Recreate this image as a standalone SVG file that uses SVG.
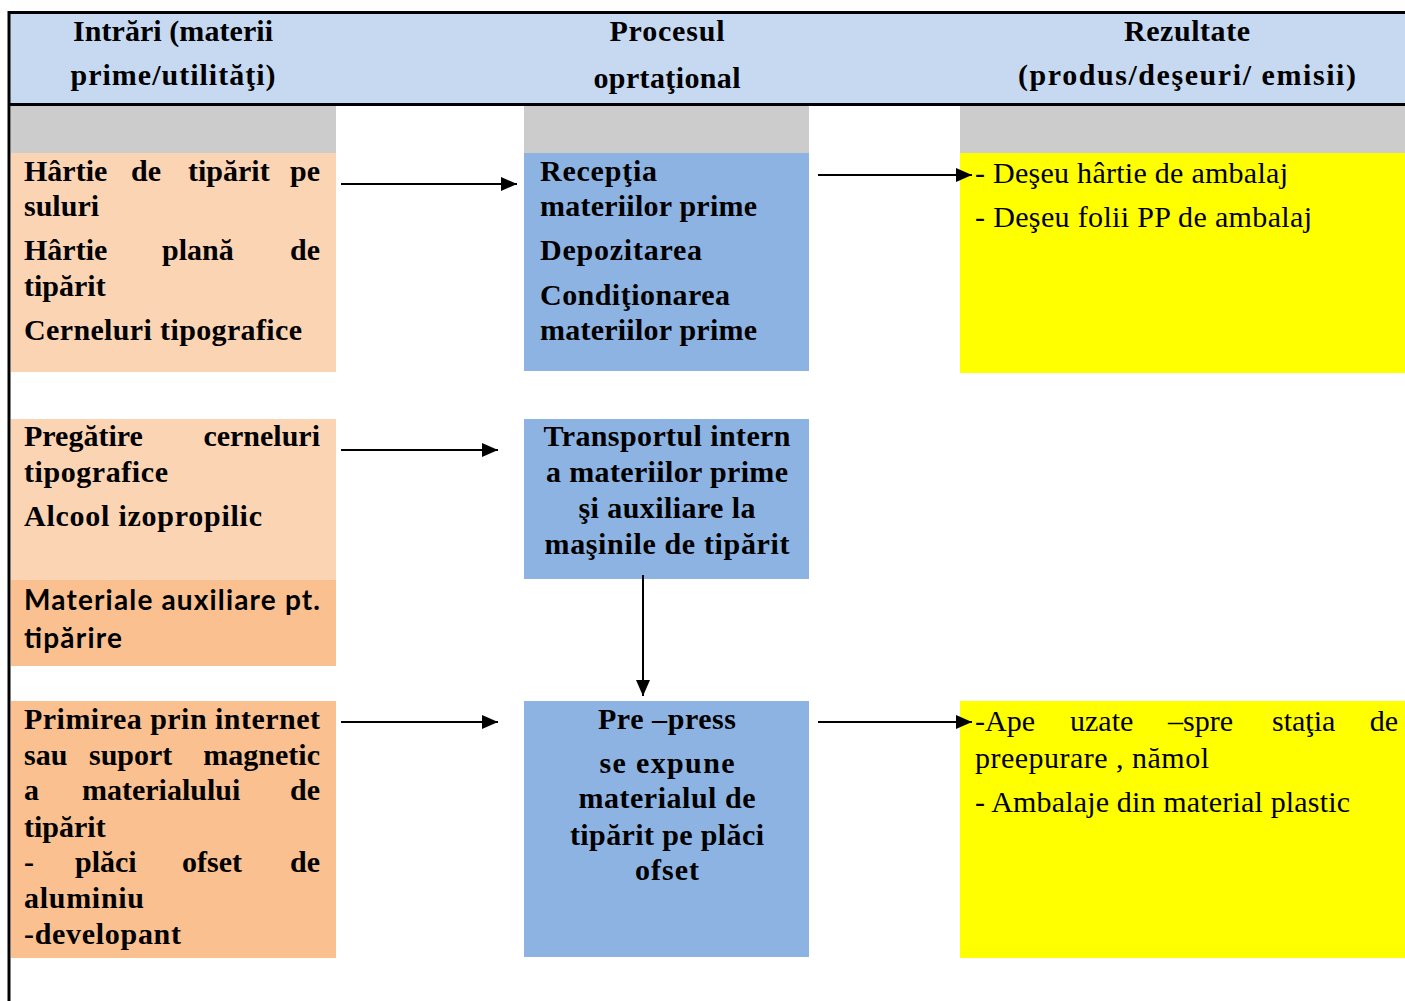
<svg xmlns="http://www.w3.org/2000/svg" width="1405" height="1001" viewBox="0 0 1405 1001">
<defs>
<marker id="ah" markerWidth="16" markerHeight="14" refX="16" refY="7" orient="auto" markerUnits="userSpaceOnUse">
<path d="M0,0 L16,7 L0,14 Z" fill="#000"/>
</marker>
<style>
.s{font-family:"Liberation Serif","Times New Roman",serif;font-weight:bold;font-size:30px;fill:#000}
.r{font-family:"Liberation Serif","Times New Roman",serif;font-weight:normal;font-size:30px;fill:#000}
.h{font-family:"Liberation Serif","Times New Roman",serif;font-weight:bold;font-size:30px;fill:#000}
.ss{font-family:Lato,"Liberation Sans",sans-serif;font-weight:bold;font-size:28px;fill:#000}
.m{text-anchor:middle}
.e{text-anchor:end}
.gray{fill:#CCCCCC}
.pl{fill:#FBD4B4}
.pd{fill:#FAC08F}
.bl{fill:#8DB3E2}
.ye{fill:#FFFF00}
.c{stroke:#000;stroke-width:2;fill:none;marker-end:url(#ah)}
</style>
</defs>
<rect width="1405" height="1001" fill="#fff"/>
<g id="header">
<rect x="9" y="13" width="1396" height="91" fill="#C6D9F1"/>
<line x1="8" y1="12.5" x2="1405" y2="12.5" stroke="#000" stroke-width="3"/>
<line x1="8" y1="104.5" x2="1405" y2="104.5" stroke="#000" stroke-width="3"/>
<line x1="9" y1="11" x2="9" y2="1001" stroke="#000" stroke-width="3"/>
<text class="h m" x="173" y="41" textLength="200">Intrări (materii</text>
<text class="h m" x="173" y="85" textLength="205">prime/utilităţi)</text>
<text class="h m" x="667" y="41" textLength="115">Procesul</text>
<text class="h m" x="667" y="88" textLength="147">oprtaţional</text>
<text class="h m" x="1187" y="41" textLength="126">Rezultate</text>
<text class="h m" x="1187" y="85" textLength="338">(produs/deşeuri/ emisii)</text>
</g>
<g id="gray-bars">
<rect class="gray" x="11" y="106" width="325" height="47"/>
<rect class="gray" x="524" y="106" width="285" height="47"/>
<rect class="gray" x="960" y="106" width="445" height="47"/>
</g>
<g id="in1">
<rect class="pl" x="11" y="153" width="325" height="219"/>
<text class="s" x="24" y="181">Hârtie</text>
<text class="s" x="131" y="181">de</text>
<text class="s" x="188" y="181">tipărit</text>
<text class="s e" x="320" y="181">pe</text>
<text class="s" x="24" y="216">suluri</text>
<text class="s" x="24" y="260">Hârtie</text>
<text class="s" x="162" y="260">plană</text>
<text class="s e" x="320" y="260">de</text>
<text class="s" x="24" y="296">tipărit</text>
<text class="s" x="24" y="340" textLength="278">Cerneluri tipografice</text>
</g>
<g id="proc1">
<rect class="bl" x="524" y="153" width="285" height="218"/>
<text class="s" x="540" y="181" textLength="117">Recepţia</text>
<text class="s" x="540" y="216" textLength="217">materiilor prime</text>
<text class="s" x="540" y="260" textLength="162">Depozitarea</text>
<text class="s" x="540" y="305" textLength="190">Condiţionarea</text>
<text class="s" x="540" y="340" textLength="217">materiilor prime</text>
</g>
<g id="out1">
<rect class="ye" x="960" y="153" width="445" height="220"/>
<text class="r" x="975" y="183" textLength="313">- Deşeu hârtie de ambalaj</text>
<text class="r" x="975" y="227" textLength="337">- Deşeu folii PP de ambalaj</text>
</g>
<g id="in2">
<rect class="pl" x="11" y="419" width="325" height="161"/>
<text class="s" x="24" y="446">Pregătire</text>
<text class="s e" x="320" y="446">cerneluri</text>
<text class="s" x="24" y="482" textLength="144">tipografice</text>
<text class="s" x="24" y="526" textLength="238">Alcool izopropilic</text>
</g>
<g id="in2b">
<rect class="pd" x="11" y="580" width="325" height="86"/>
<text class="ss" x="24" y="610" textLength="296">Materiale auxiliare pt.</text>
<text class="ss" x="24" y="648" textLength="98">tipărire</text>
</g>
<g id="proc2">
<rect class="bl" x="524" y="419" width="285" height="160"/>
<text class="s m" x="667" y="446" textLength="247">Transportul intern</text>
<text class="s m" x="667" y="482" textLength="242">a materiilor prime</text>
<text class="s m" x="667" y="518" textLength="177">şi auxiliare la</text>
<text class="s m" x="667" y="554" textLength="245">maşinile de tipărit</text>
</g>
<g id="in3">
<rect class="pd" x="11" y="701" width="325" height="257"/>
<text class="s" x="24" y="729" textLength="296">Primirea prin internet</text>
<text class="s" x="24" y="765">sau</text>
<text class="s" x="89" y="765">suport</text>
<text class="s e" x="320" y="765">magnetic</text>
<text class="s" x="24" y="800">a</text>
<text class="s" x="82" y="800">materialului</text>
<text class="s e" x="320" y="800">de</text>
<text class="s" x="24" y="837">tipărit</text>
<text class="s" x="24" y="872">-</text>
<text class="s" x="75" y="872">plăci</text>
<text class="s" x="182" y="872">ofset</text>
<text class="s e" x="320" y="872">de</text>
<text class="s" x="24" y="908" textLength="120">aluminiu</text>
<text class="s" x="24" y="944" textLength="157">-developant</text>
</g>
<g id="proc3">
<rect class="bl" x="524" y="701" width="285" height="256"/>
<text class="s m" x="667" y="729" textLength="138">Pre –press</text>
<text class="s m" x="667" y="773" textLength="135">se expune</text>
<text class="s m" x="667" y="808" textLength="177">materialul de</text>
<text class="s m" x="667" y="845" textLength="194">tipărit pe plăci</text>
<text class="s m" x="667" y="880" textLength="64">ofset</text>
</g>
<g id="out3">
<rect class="ye" x="960" y="701" width="445" height="257"/>
<text class="r" x="975" y="731">-Ape</text>
<text class="r" x="1070" y="731">uzate</text>
<text class="r" x="1168" y="731">–spre</text>
<text class="r" x="1272" y="731">staţia</text>
<text class="r e" x="1398" y="731">de</text>
<text class="r" x="975" y="768" textLength="234">preepurare , nămol</text>
<text class="r" x="975" y="812" textLength="375">- Ambalaje din material plastic</text>
</g>
<g id="connectors">
<line class="c" x1="341" y1="184" x2="517" y2="184"/>
<line class="c" x1="818" y1="175" x2="972" y2="175"/>
<line class="c" x1="341" y1="450" x2="498" y2="450"/>
<line class="c" x1="643" y1="575" x2="643" y2="696"/>
<line class="c" x1="341" y1="722" x2="498" y2="722"/>
<line class="c" x1="818" y1="722" x2="972" y2="722"/>
</g>
</svg>
